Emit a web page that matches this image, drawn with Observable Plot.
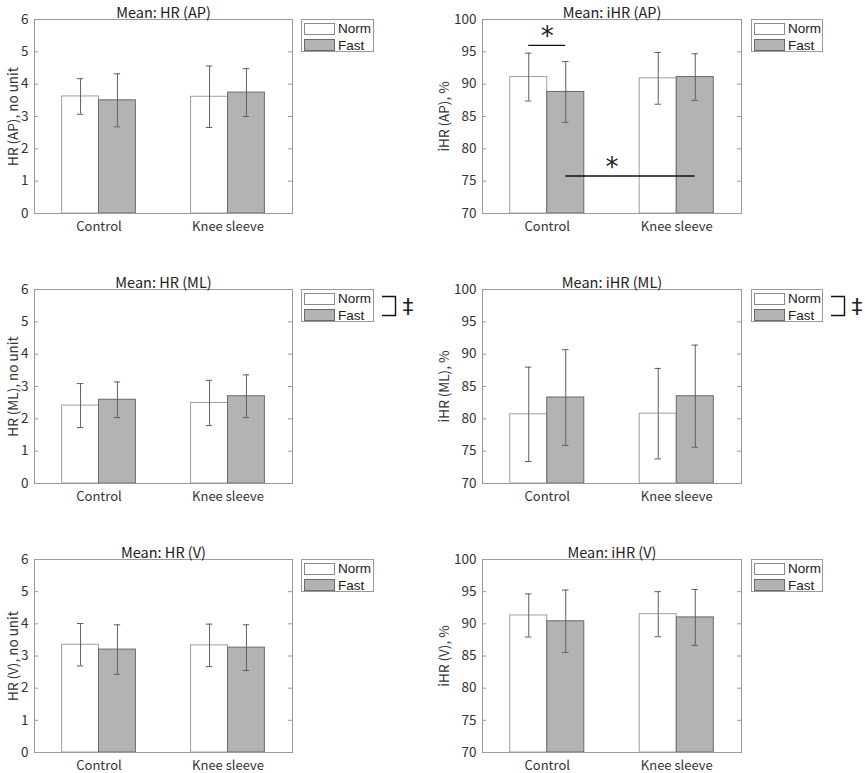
<!DOCTYPE html>
<html>
<head>
<meta charset="utf-8">
<script src="https://cdn.jsdelivr.net/npm/d3@7"></script>
<script src="https://cdn.jsdelivr.net/npm/@observablehq/plot@0.6"></script>
<style>
  html, body { margin: 0; padding: 0; background: #fff; }
  #fig { position: relative; width: 865px; height: 773px; overflow: hidden; font-family: "Noto Sans CJK JP", "Noto Sans", sans-serif; color: #333; }
  .panel { position: absolute; }
  .legend { position: absolute; box-sizing: border-box; border: 1px solid #999; background: #fff; font-size: 13.5px; font-family: "Liberation Sans", Arial, sans-serif; }
  .legend .row { position: absolute; left: 2px; height: 13px; display: flex; align-items: center; }
  .legend .sw { width: 31px; height: 12px; box-sizing: border-box; margin-right: 3px; }
  .legend .lab { line-height: 13px; color: #222; }
  .ann { position: absolute; }
</style>
</head>
<body>
<div id="fig"></div>
<script>
// ---- data ----
const categories = ["Control", "Knee sleeve"];
const series = ["Norm", "Fast"];

const hrTicks = [0, 1, 2, 3, 4, 5, 6];
const ihrTicks = [70, 75, 80, 85, 90, 95, 100];

const hrAP_norm = [3.62, 3.61];
const hrAP_normSd = [0.55, 0.95];
const hrAP_fast = [3.50, 3.74];
const hrAP_fastSd = [0.82, 0.74];

const ihrAP_norm = [91.1, 90.9];
const ihrAP_normSd = [3.7, 4.0];
const ihrAP_fast = [88.8, 91.1];
const ihrAP_fastSd = [4.7, 3.6];

const hrML_norm = [2.41, 2.49];
const hrML_normSd = [0.68, 0.70];
const hrML_fast = [2.59, 2.70];
const hrML_fastSd = [0.55, 0.66];

const ihrML_norm = [80.7, 80.8];
const ihrML_normSd = [7.3, 7.0];
const ihrML_fast = [83.3, 83.5];
const ihrML_fastSd = [7.4, 7.9];

const hrV_norm = [3.35, 3.33];
const hrV_normSd = [0.66, 0.66];
const hrV_fast = [3.20, 3.26];
const hrV_fastSd = [0.77, 0.71];

const ihrV_norm = [91.3, 91.5];
const ihrV_normSd = [3.35, 3.5];
const ihrV_fast = [90.4, 91.0];
const ihrV_fastSd = [4.85, 4.35];

// significance: [category, series] -> [category, series] at value
const ihrAP_sig = [
  { from: ["Control", "Norm"], to: ["Control", "Fast"], y: 96.0 },
  { from: ["Control", "Fast"], to: ["Knee sleeve", "Fast"], y: 75.8 }
];

// ---- layout helpers ----
const FONT = '"Noto Sans CJK JP", "Noto Sans", sans-serif';
const barW = 0.286;
const offs = { Norm: -barW / 2, Fast: barW / 2 };
const catPos = c => categories.indexOf(c) + 1;

function rowsOf(norm, normSd, fast, fastSd) {
  const rows = [];
  categories.forEach((c, i) => {
    rows.push({ cat: c, series: "Norm", mean: norm[i], sd: normSd[i] });
    rows.push({ cat: c, series: "Fast", mean: fast[i], sd: fastSd[i] });
  });
  return rows;
}

const fig = document.getElementById("fig");

function panel(cfg) {
  const { title, ylabel, yTicks, rows, col, row, sig, bracket } = cfg;
  const yMin = yTicks[0], yMax = yTicks[yTicks.length - 1];
  const left = col === 0 ? 0 : 430;
  const top = [0, 270, 540][row];
  const frameH = row === 2 ? 193 : 194;
  const W = col === 0 ? 430 : 435;
  const mL = col === 0 ? 34 : 52;
  const fw = col === 0 ? 258 : 259;
  const mR = W - mL - fw;
  const mT = 19, mB = 30;
  const cx = d => catPos(d.cat) + offs[d.series];

  const marks = [
    Plot.rectY(rows, {
      x1: d => cx(d) - barW / 2,
      x2: d => cx(d) + barW / 2,
      y1: yMin,
      y2: "mean",
      fill: d => d.series === "Norm" ? "#ffffff" : "#b3b3b3",
      stroke: d => d.series === "Norm" ? "#a0a0a0" : "#6a6a6a",
      strokeWidth: 1
    }),
    Plot.ruleX(rows, { x: cx, y1: d => d.mean - d.sd, y2: d => d.mean + d.sd, stroke: "#606060", strokeWidth: 1 }),
    Plot.ruleY(rows, { y: d => d.mean + d.sd, x1: d => cx(d) - 0.025, x2: d => cx(d) + 0.025, stroke: "#606060", strokeWidth: 1 }),
    Plot.ruleY(rows, { y: d => d.mean - d.sd, x1: d => cx(d) - 0.025, x2: d => cx(d) + 0.025, stroke: "#606060", strokeWidth: 1 }),
    Plot.frame({ stroke: "#9a9a9a", strokeWidth: 1 }),
    Plot.tickY(yTicks.slice(1, -1), { y: d => d, insetRight: fw - 4, stroke: "#9a9a9a" }),
    Plot.tickY(yTicks.slice(1, -1), { y: d => d, insetLeft: fw - 4, stroke: "#9a9a9a" }),
    Plot.axisY({ ticks: yTicks, tickFormat: d => String(d), tickSize: 0, tickPadding: 6, label: ylabel, labelAnchor: "center", labelArrow: "none", labelOffset: col === 0 ? 26 : 43, fontSize: 13.5 }),
    Plot.axisX({ ticks: [1, 2], tickFormat: i => categories[i - 1], tickSize: 0, tickPadding: 8, label: null, fontSize: 13 }),
    Plot.text([title], { text: d => d, frameAnchor: "top", lineAnchor: "bottom", dy: -2, fontSize: 14.5, fill: "#222" })
  ];

  if (sig) {
    const px = ([c, s]) => catPos(c) + offs[s];
    marks.push(Plot.ruleY(sig, { y: "y", x1: d => px(d.from), x2: d => px(d.to), stroke: "#111", strokeWidth: 1.4 }));
    marks.push(Plot.text(sig, {
      x: d => (catPos(d.from[0]) + catPos(d.to[0])) / 2, y: "y", text: () => "*",
      fontSize: 26, dy: 0, lineAnchor: "bottom", fill: "#222", fontFamily: "DejaVu Sans"
    }));
  }

  const p = Plot.plot({
    width: W, height: mT + frameH + mB,
    marginLeft: mL, marginRight: mR, marginTop: mT, marginBottom: mB,
    x: { domain: [0.5, 2.5], axis: null },
    y: { domain: [yMin, yMax], axis: null },
    style: { fontFamily: FONT, fontSize: "13px", color: "#333", background: "transparent" },
    marks
  });
  const div = document.createElement("div");
  div.className = "panel";
  div.style.left = left + "px";
  div.style.top = top + "px";
  div.appendChild(p);
  fig.appendChild(div);

  // legend
  const lx = col === 0 ? 301 : 751;
  const ly = top + mT;
  const lg = document.createElement("div");
  lg.className = "legend";
  lg.style.left = lx + "px";
  lg.style.top = ly + "px";
  lg.style.width = (col === 0 ? 73 : 72) + "px";
  lg.style.height = "33px";
  series.forEach((s, i) => {
    const r = document.createElement("div");
    r.className = "row";
    r.style.top = (i === 0 ? 2 : 18.5) + "px";
    const sw = document.createElement("span");
    sw.className = "sw";
    sw.style.background = s === "Norm" ? "#ffffff" : "#b3b3b3";
    sw.style.border = "1px solid " + (s === "Norm" ? "#8a8a8a" : "#6a6a6a");
    const lab = document.createElement("span");
    lab.className = "lab";
    lab.textContent = s;
    r.appendChild(sw); r.appendChild(lab);
    lg.appendChild(r);
  });
  fig.appendChild(lg);

  if (bracket) {
    const bx = col === 0 ? 382 : 831;
    const svgNS = "http://www.w3.org/2000/svg";
    const svg = document.createElementNS(svgNS, "svg");
    svg.setAttribute("class", "ann");
    svg.setAttribute("width", 34); svg.setAttribute("height", 34);
    svg.style.left = bx + "px"; svg.style.top = (ly) + "px";
    const path = document.createElementNS(svgNS, "path");
    path.setAttribute("d", "M0,7.5H13.5V26.5H0");
    path.setAttribute("fill", "none"); path.setAttribute("stroke", "#111"); path.setAttribute("stroke-width", "1.4");
    svg.appendChild(path);
    const t = document.createElementNS(svgNS, "text");
    t.setAttribute("x", 26); t.setAttribute("y", 17);
    t.setAttribute("text-anchor", "middle"); t.setAttribute("dominant-baseline", "central");
    t.setAttribute("font-size", "22"); t.setAttribute("font-family", "DejaVu Sans"); t.setAttribute("fill", "#222");
    t.textContent = "‡";
    svg.appendChild(t);
    fig.appendChild(svg);
  }
}

panel({ title: "Mean: HR (AP)", ylabel: "HR (AP), no unit", yTicks: hrTicks, rows: rowsOf(hrAP_norm, hrAP_normSd, hrAP_fast, hrAP_fastSd), col: 0, row: 0 });
panel({ title: "Mean: iHR (AP)", ylabel: "iHR (AP), %", yTicks: ihrTicks, rows: rowsOf(ihrAP_norm, ihrAP_normSd, ihrAP_fast, ihrAP_fastSd), col: 1, row: 0, sig: ihrAP_sig });
panel({ title: "Mean: HR (ML)", ylabel: "HR (ML), no unit", yTicks: hrTicks, rows: rowsOf(hrML_norm, hrML_normSd, hrML_fast, hrML_fastSd), col: 0, row: 1, bracket: true });
panel({ title: "Mean: iHR (ML)", ylabel: "iHR (ML), %", yTicks: ihrTicks, rows: rowsOf(ihrML_norm, ihrML_normSd, ihrML_fast, ihrML_fastSd), col: 1, row: 1, bracket: true });
panel({ title: "Mean: HR (V)", ylabel: "HR (V), no unit", yTicks: hrTicks, rows: rowsOf(hrV_norm, hrV_normSd, hrV_fast, hrV_fastSd), col: 0, row: 2 });
panel({ title: "Mean: iHR (V)", ylabel: "iHR (V), %", yTicks: ihrTicks, rows: rowsOf(ihrV_norm, ihrV_normSd, ihrV_fast, ihrV_fastSd), col: 1, row: 2 });
</script>
</body>
</html>
